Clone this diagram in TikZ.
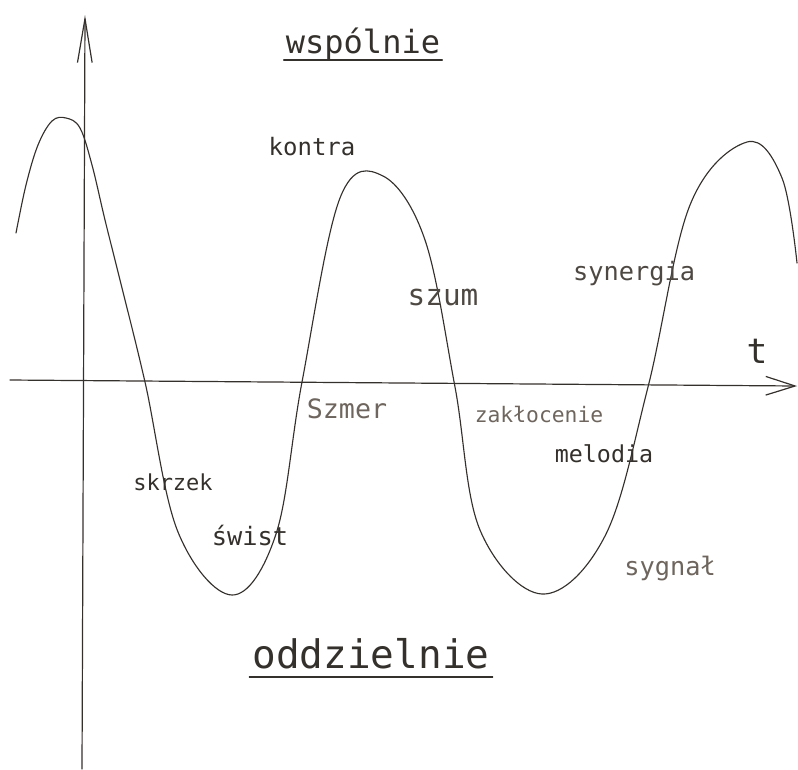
\documentclass[tikz,border=0pt]{standalone}
\usepackage{fontspec}
\setmonofont{DejaVu Sans Mono}
\usetikzlibrary{arrows.meta}
\definecolor{ink}{RGB}{52,48,44}
\definecolor{inkmid}{RGB}{78,72,66}
\definecolor{inkpale}{RGB}{110,102,94}

\begin{document}
\begin{tikzpicture}[
  x=0.75pt, y=-0.75pt,
  line cap=round, line join=round,
  axis/.style={draw=ink, line width=0.9pt},
  wave/.style={draw=ink, line width=0.85pt},
  lbl/.style={inner sep=0pt, anchor=base, text=ink, font=\ttfamily\fontsize{#1}{#1}\selectfont},
  pale/.style={text=inkpale},
  mid/.style={text=inkmid},
  uline/.style={draw=ink, line width=0.9pt},
]
\useasboundingbox (0,0) rectangle (798,769);

% --- axes ------------------------------------------------------------------
\coordinate (ybot) at (82,769);
\coordinate (ytop) at (85,15);
\coordinate (xleft) at (10,380);
\coordinate (xright) at (797,386);
\draw[axis, -{Straight Barb[length=33pt,width=11pt]}] (ybot) -- (ytop);
\draw[axis, -{Straight Barb[length=22pt,width=14pt]}] (xleft) -- (xright);
\node[lbl=26pt] (t) at (757,363) {t};

% --- the wave --------------------------------------------------------------
\draw[wave] plot[smooth, tension=0.6] coordinates {
  (16,233) (26,185) (38,145) (52,121) (66,118) (80,128) (92,165) (105,220)
  (120,280) (145,382) (178,532) (232,595) (276,534) (302,382) (340,198)
  (383,176) (425,240) (455,387) (480,530) (542,594) (605,536) (648,387)
  (690,205) (747,142) (782,178) (797,263)};

% --- headings, underlined ---------------------------------------------------
\node[lbl=24pt] (wsp) at (363,53) {wspólnie};
\draw[uline] ([shift={(-2,7)}]wsp.base west) -- ([shift={(2,7)}]wsp.base east);
\node[lbl=29.5pt] (odd) at (371,668) {oddzielnie};
\draw[uline] ([shift={(-3,9)}]odd.base west) -- ([shift={(3,9)}]odd.base east);

% --- words along the wave ---------------------------------------------------
\node[lbl=18pt] (kontra) at (312,155) {kontra};
\node[lbl=22pt, mid] (szum) at (443,305) {szum};
\node[lbl=19pt, mid] (synergia) at (634,280) {synergia};
\node[lbl=20pt, pale] (szmer) at (347,418) {Szmer};
\node[lbl=16.5pt] (skrzek) at (173,490) {skrzek};
\node[lbl=19pt] (swist) at (250,545) {świst};
\node[lbl=16pt, pale] (zaklocenie) at (539,422) {zakłocenie};
\node[lbl=17.5pt] (melodia) at (604,462) {melodia};
\node[lbl=19pt, pale] (sygnal) at (670,575) {sygnał};
\end{tikzpicture}
\end{document}
